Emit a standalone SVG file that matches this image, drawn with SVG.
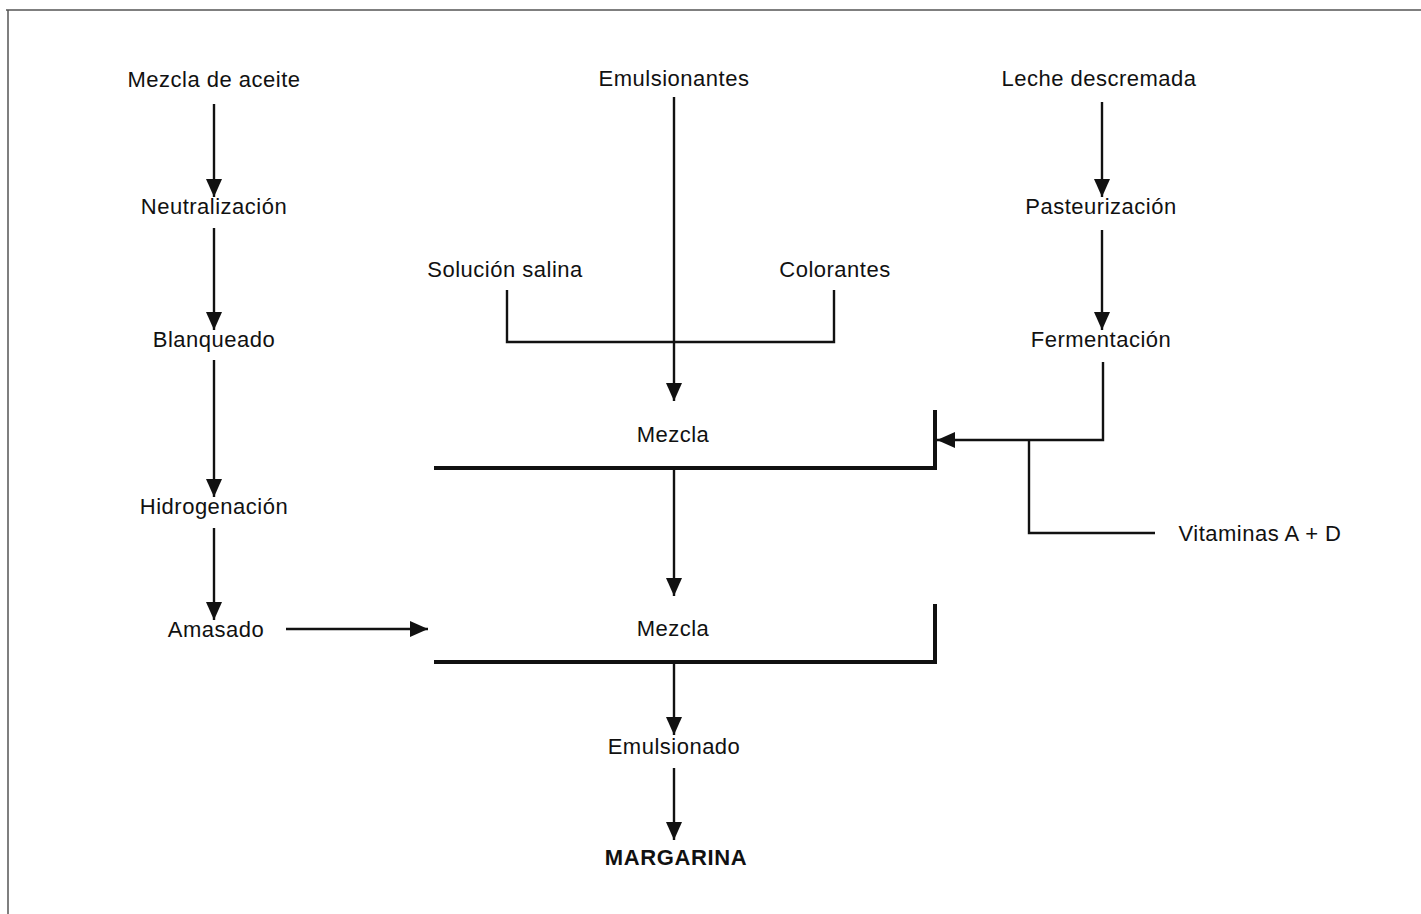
<svg xmlns="http://www.w3.org/2000/svg" width="1421" height="914" viewBox="0 0 1421 914">
<defs>
<style>
text{font-family:"Liberation Sans",Arial,sans-serif;font-size:22px;letter-spacing:0.5px;fill:#111;text-anchor:middle}
.b{font-weight:bold;letter-spacing:0.6px}
.ln{stroke:#111;stroke-width:2.4;fill:none}
.thick{stroke:#111;stroke-width:4;fill:none}
.frame{stroke:#555;stroke-width:1.5;fill:none}
</style>
<marker id="ah" markerUnits="userSpaceOnUse" markerWidth="18" markerHeight="16" viewBox="0 0 18 16" refX="18" refY="8" orient="auto">
<path d="M0,0 L18,8 L0,16 Z" fill="#111"/>
</marker>
</defs>
<rect width="1421" height="914" fill="#fff"/>
<path class="frame" d="M6,10 H1421 M8,10 V914"/>
<g id="connectors">
<line class="ln" x1="214" y1="104" x2="214" y2="197" marker-end="url(#ah)"/>
<line class="ln" x1="214" y1="228" x2="214" y2="330" marker-end="url(#ah)"/>
<line class="ln" x1="214" y1="360" x2="214" y2="497" marker-end="url(#ah)"/>
<line class="ln" x1="214" y1="528" x2="214" y2="620" marker-end="url(#ah)"/>
<line class="ln" x1="286" y1="629" x2="428" y2="629" marker-end="url(#ah)"/>
<line class="ln" x1="674" y1="97" x2="674" y2="401" marker-end="url(#ah)"/>
<path class="ln" d="M507,290 V342 H834 V290"/>
<line class="ln" x1="674" y1="468" x2="674" y2="596" marker-end="url(#ah)"/>
<line class="ln" x1="674" y1="662" x2="674" y2="735" marker-end="url(#ah)"/>
<line class="ln" x1="674" y1="768" x2="674" y2="840" marker-end="url(#ah)"/>
<line class="ln" x1="1102" y1="102" x2="1102" y2="197" marker-end="url(#ah)"/>
<line class="ln" x1="1102" y1="230" x2="1102" y2="330" marker-end="url(#ah)"/>
<polyline class="ln" points="1103,362 1103,440 937,440" marker-end="url(#ah)"/>
<path class="ln" d="M1029,440 V533 H1155"/>
</g>
<g id="n-aceite"><text x="214" y="87">Mezcla de aceite</text></g>
<g id="n-neutralizacion"><text x="214" y="214">Neutralización</text></g>
<g id="n-blanqueado"><text x="214" y="347">Blanqueado</text></g>
<g id="n-hidrogenacion"><text x="214" y="514">Hidrogenación</text></g>
<g id="n-amasado"><text x="216" y="637">Amasado</text></g>
<g id="n-emulsionantes"><text x="674" y="86">Emulsionantes</text></g>
<g id="n-salina"><text x="505" y="277">Solución salina</text></g>
<g id="n-colorantes"><text x="835" y="277">Colorantes</text></g>
<g id="n-mezcla1"><path class="thick" d="M434,468 H935 V410"/><text x="673" y="442">Mezcla</text></g>
<g id="n-mezcla2"><path class="thick" d="M434,662 H935 V604"/><text x="673" y="636">Mezcla</text></g>
<g id="n-emulsionado"><text x="674" y="754">Emulsionado</text></g>
<g id="n-margarina"><text class="b" x="676" y="865">MARGARINA</text></g>
<g id="n-leche"><text x="1099" y="86">Leche descremada</text></g>
<g id="n-pasteurizacion"><text x="1101" y="214">Pasteurización</text></g>
<g id="n-fermentacion"><text x="1101" y="347">Fermentación</text></g>
<g id="n-vitaminas"><text x="1260" y="541">Vitaminas A + D</text></g>
</svg>
